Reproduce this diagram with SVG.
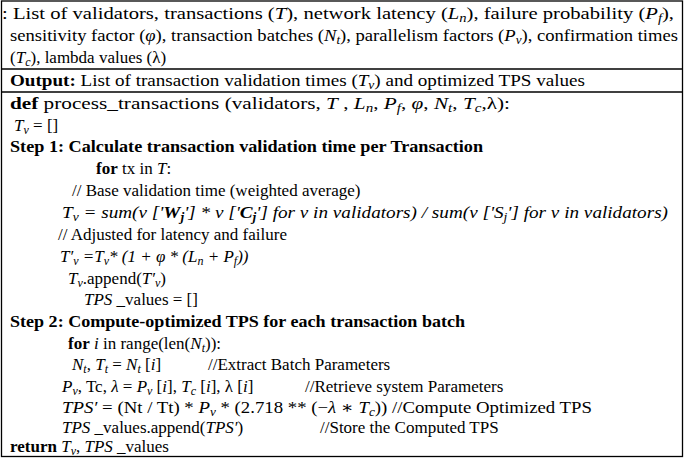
<svg xmlns="http://www.w3.org/2000/svg" width="685" height="458" viewBox="0 0 685 458">
<style>
text{font-family:"Liberation Serif","Times New Roman","DejaVu Serif",serif;font-size:17px;fill:#000}
.b{font-weight:bold}.i{font-style:italic}
.s{font-size:12px;font-style:italic}
line,rect{stroke:#000;stroke-width:1.3;fill:none}
</style>
<rect x="1.5" y="1" width="681" height="455.5"/>
<line x1="1.5" y1="69" x2="682.5" y2="69"/>
<line x1="1.5" y1="92" x2="682.5" y2="92"/>
<g id="input">
<text x="2" y="19" textLength="672" lengthAdjust="spacingAndGlyphs">: List of validators, transactions (<tspan class="i">T</tspan>), network latency (<tspan class="i">L</tspan><tspan class="s" dy="3">n</tspan><tspan dy="-3">), failure probability (</tspan><tspan class="i">P</tspan><tspan class="s" dy="3">f</tspan><tspan dy="-3">),</tspan></text>
<text x="10" y="41" textLength="668" lengthAdjust="spacingAndGlyphs">sensitivity factor (<tspan class="i">φ</tspan>), transaction batches (<tspan class="i">N</tspan><tspan class="s" dy="3">t</tspan><tspan dy="-3">), parallelism factors (</tspan><tspan class="i">P</tspan><tspan class="s" dy="3">v</tspan><tspan dy="-3">), confirmation times</tspan></text>
<text x="10" y="63">(<tspan class="i">T</tspan><tspan class="s" dy="3">c</tspan><tspan dy="-3">), lambda values (λ)</tspan></text>
</g>
<g id="output">
<text x="10" y="86" textLength="575" lengthAdjust="spacingAndGlyphs"><tspan class="b">Output:</tspan> List of transaction validation times (<tspan class="i">T</tspan><tspan class="s" dy="3">v</tspan><tspan dy="-3">) and optimized TPS values</tspan></text>
</g>
<g id="body">
<text x="10" y="109" textLength="500" lengthAdjust="spacingAndGlyphs"><tspan class="b">def</tspan> process_transactions (validators, <tspan class="i">T</tspan> , <tspan class="i">L</tspan><tspan class="s" dy="3">n</tspan><tspan dy="-3">, </tspan><tspan class="i">P</tspan><tspan class="s" dy="3">f</tspan><tspan dy="-3">, </tspan><tspan class="i">φ</tspan>, <tspan class="i">N</tspan><tspan class="s" dy="3">t</tspan><tspan dy="-3">, </tspan><tspan class="i">T</tspan><tspan class="s" dy="3">c</tspan><tspan dy="-3">,λ):</tspan></text>
<text x="14" y="131" class="i">T<tspan class="s" dy="3">v</tspan><tspan dy="-3" font-style="normal"> = []</tspan></text>
<text x="10" y="152" class="b" textLength="473" lengthAdjust="spacingAndGlyphs">Step 1: Calculate transaction validation time per Transaction</text>
<text x="96" y="174"><tspan class="b">for</tspan> tx in <tspan class="i">T</tspan>:</text>
<text x="72" y="196">// Base validation time (weighted average)</text>
<text x="62" y="218" class="i" textLength="606" lengthAdjust="spacingAndGlyphs">T<tspan class="s" dy="3">v</tspan><tspan dy="-3"> = sum(v ['</tspan><tspan class="b">W</tspan><tspan class="s b" dy="3">j</tspan><tspan dy="-3">'] * v ['</tspan><tspan class="b">C</tspan><tspan class="s b" dy="3">j</tspan><tspan dy="-3">'] for v in validators) / sum(v ['S</tspan><tspan class="s" dy="3">j</tspan><tspan dy="-3">'] for v in validators)</tspan></text>
<text x="58" y="240">// Adjusted for latency and failure</text>
<text x="60" y="262" class="i">T′<tspan class="s" dy="3">v</tspan><tspan dy="-3"> =T</tspan><tspan class="s" dy="3">v</tspan><tspan dy="-3">* (1 + φ * (L</tspan><tspan class="s" dy="3">n</tspan><tspan dy="-3"> + P</tspan><tspan class="s" dy="3">f</tspan><tspan dy="-3">))</tspan></text>
<text x="68" y="284"><tspan class="i">T</tspan><tspan class="s" dy="3">v</tspan><tspan dy="-3">.append(</tspan><tspan class="i">T′</tspan><tspan class="s" dy="3">v</tspan><tspan dy="-3">)</tspan></text>
<text x="84" y="305"><tspan class="i">TPS</tspan> _values = []</text>
<text x="10" y="327" class="b" textLength="455" lengthAdjust="spacingAndGlyphs">Step 2: Compute-optimized TPS for each transaction batch</text>
<text x="68" y="349"><tspan class="b">for</tspan> <tspan class="i">i</tspan> in range(len(<tspan class="i">N</tspan><tspan class="s" dy="3">t</tspan><tspan dy="-3">)):</tspan></text>
<text x="72" y="370"><tspan class="i">N</tspan><tspan class="s" dy="3">t</tspan><tspan dy="-3">, </tspan><tspan class="i">T</tspan><tspan class="s" dy="3">t</tspan><tspan dy="-3"> = </tspan><tspan class="i">N</tspan><tspan class="s" dy="3">t</tspan><tspan dy="-3"> [</tspan><tspan class="i">i</tspan>]</text>
<text x="208" y="370">//Extract Batch Parameters</text>
<text x="62" y="392"><tspan class="i">P</tspan><tspan class="s" dy="3">v</tspan><tspan dy="-3">, Tc, </tspan><tspan class="i">λ</tspan> = <tspan class="i">P</tspan><tspan class="s" dy="3">v</tspan><tspan dy="-3"> [</tspan><tspan class="i">i</tspan>], <tspan class="i">T</tspan><tspan class="s" dy="3">c</tspan><tspan dy="-3"> [</tspan><tspan class="i">i</tspan>], λ [<tspan class="i">i</tspan>]</text>
<text x="305" y="392">//Retrieve system Parameters</text>
<text x="62" y="413" textLength="530" lengthAdjust="spacingAndGlyphs"><tspan class="i">TPS′</tspan> = (Nt / Tt) * <tspan class="i">P</tspan><tspan class="s" dy="3">v</tspan><tspan dy="-3"> * (2.718 ** (−</tspan><tspan class="i">λ</tspan> ∗ <tspan class="i">T</tspan><tspan class="s" dy="3">c</tspan><tspan dy="-3">))  //Compute Optimized TPS</tspan></text>
<text x="62" y="433"><tspan class="i">TPS</tspan> _values.append(<tspan class="i">TPS′</tspan>)</text>
<text x="320" y="433">//Store the Computed TPS</text>
<text x="10" y="452"><tspan class="b">return</tspan> <tspan class="i">T</tspan><tspan class="s" dy="3">v</tspan><tspan dy="-3">, </tspan><tspan class="i">TPS</tspan> _values</text>
</g>
</svg>
